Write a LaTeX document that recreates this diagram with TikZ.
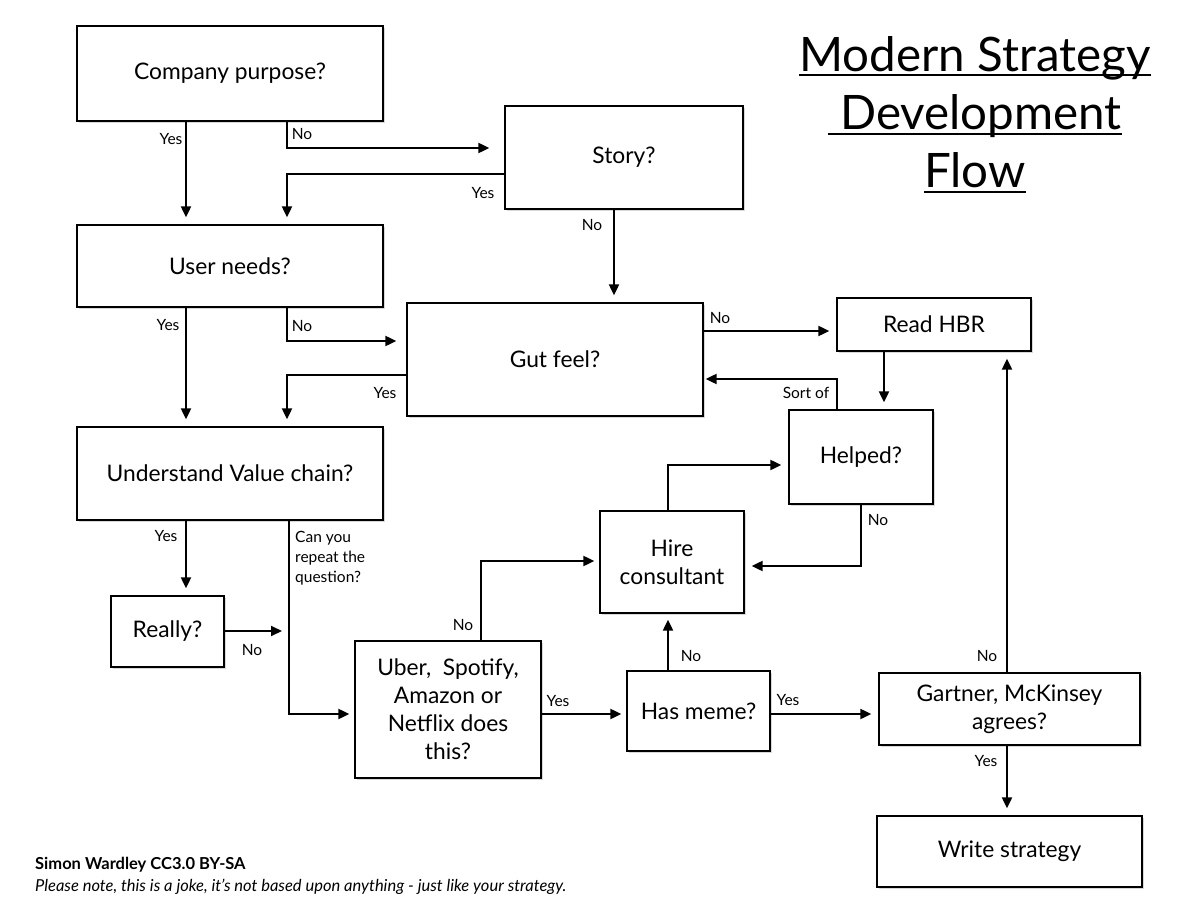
\documentclass[tikz,border=0pt]{standalone}
\usepackage{fontspec}
\setmainfont{Lato}
\usetikzlibrary{arrows.meta,shadows}
\begin{document}
\begin{tikzpicture}[x=1pt,y=-1pt,
  box/.style={draw=black, line width=1.3pt, fill=white, inner sep=2pt, align=center,
    font=\fontsize{22.8}{28}\selectfont,
    drop shadow={opacity=0.3, shadow xshift=2pt, shadow yshift=-2pt}},
  arr/.style={line width=2pt, -{Triangle[length=11pt,width=10pt]}, shorten >=7pt},
  lbl/.style={font=\fontsize{15.5}{18}\selectfont, inner sep=0pt},
  ul/.style={line width=1.6pt}]
\useasboundingbox (0,0) rectangle (1200,909);
\fill[white] (0,0) rectangle (1200,909);

% boxes
\node[box, minimum width=306pt, minimum height=95pt] (cp) at (230,73.5) {Company purpose?};
\node[box, minimum width=238pt, minimum height=103pt] (story) at (624,157.5) {Story?};
\node[box, minimum width=306pt, minimum height=82pt] (un) at (230,266) {User needs?};
\node[box, minimum width=296pt, minimum height=113pt] (gut) at (555,359.5) {Gut feel?};
\node[box, minimum width=194pt, minimum height=53pt] (hbr) at (934,324.5) {Read HBR};
\node[box, minimum width=306pt, minimum height=93pt] (uvc) at (230,473.5) {Understand Value chain?};
\node[box, minimum width=144pt, minimum height=94pt] (helped) at (861,457) {Helped?};
\node[box, minimum width=144pt, minimum height=102pt] (hire) at (672,562) {Hire\\consultant};
\node[box, minimum width=113pt, minimum height=71pt] (really) at (167.5,631.5) {Really?};
\node[box, minimum width=186pt, minimum height=137pt] (uber) at (448,709.5) {Uber,\ \ Spotify,\\Amazon or\\Netflix does\\this?};
\node[box, minimum width=143pt, minimum height=80pt] (meme) at (698.5,711) {Has meme?};
\node[box, minimum width=261pt, minimum height=72pt] (gart) at (1009.5,709) {Gartner, McKinsey\\agrees?};
\node[box, minimum width=265pt, minimum height=71pt] (ws) at (1009.5,851.5) {Write strategy};

% free junction
\coordinate (rj) at (289,631);

% connectors
\draw[arr] (186,0 |- cp.south) -- (186,0 |- un.north);
\draw[arr, shorten >=15pt] (287,0 |- cp.south) |- (story.west |- 0,148);
\draw[arr] (story.west |- 0,174) -| (287,0 |- un.north);
\draw[arr] (614,0 |- story.south) -- (614,0 |- gut.north);
\draw[arr] (186,0 |- un.south) -- (186,0 |- uvc.north);
\draw[arr, shorten >=10pt] (287,0 |- un.south) |- (gut.west |- 0,341);
\draw[arr] (gut.west |- 0,375) -| (287,0 |- uvc.north);
\draw[arr] (gut.east |- 0,331) -- (hbr.west |- 0,331);
\draw[arr] (884,0 |- hbr.south) -- (884,0 |- helped.north);
\draw[arr, shorten >=2pt] (837,0 |- helped.north) |- (gut.east |- 0,379);
\draw[arr] (186,0 |- uvc.south) -- (186,0 |- really.north);
\draw[arr, shorten >=5pt] (289,0 |- uvc.south) |- (uber.west |- 0,714);
\draw[arr] (really.east |- 0,631) -- (rj);
\draw[arr, shorten >=5pt] (481,0 |- uber.north) |- (hire.west |- 0,561);
\draw[arr, shorten >=5pt] (uber.east |- 0,714) -- (meme.west |- 0,714);
\draw[arr, shorten >=6pt] (668,0 |- meme.north) -- (668,0 |- hire.south);
\draw[arr] (668,0 |- hire.north) |- (helped.west |- 0,465);
\draw[arr] (861,0 |- helped.south) |- (hire.east |- 0,566);
\draw[arr] (meme.east |- 0,714) -- (gart.west |- 0,714);
\draw[arr] (1007,0 |- gart.north) -- (1007,0 |- hbr.south);
\draw[arr] (1007,0 |- gart.south) -- (1007,0 |- ws.north);

% labels
\node[lbl] (l1) at (171,139) {Yes};
\node[lbl] (l2) at (302,134) {No};
\node[lbl] (l3) at (483,193) {Yes};
\node[lbl] (l4) at (592,225) {No};
\node[lbl] (l5) at (168,325) {Yes};
\node[lbl] (l6) at (302,326) {No};
\node[lbl] (l7) at (385,393) {Yes};
\node[lbl] (l8) at (720,318) {No};
\node[lbl] (l9) at (806,393) {Sort of};
\node[lbl] (l10) at (166,536) {Yes};
\node[lbl, align=left, anchor=north west, font=\fontsize{15.5}{20}\selectfont] (l11) at (295,531) {Can you\\repeat the\\question?};
\node[lbl] (l12) at (252,650) {No};
\node[lbl] (l13) at (463,625) {No};
\node[lbl] (l14) at (558,701) {Yes};
\node[lbl] (l15) at (691,656) {No};
\node[lbl] (l16) at (878,520) {No};
\node[lbl] (l17) at (788,700) {Yes};
\node[lbl] (l18) at (987,656) {No};
\node[lbl] (l19) at (986,761) {Yes};

% title
\node[inner sep=0pt, anchor=base, font=\fontsize{47.5}{50}\selectfont] (t1) at (975,72) {Modern Strategy};
\node[inner sep=0pt, anchor=base, font=\fontsize{47.5}{50}\selectfont] (t2) at (981,130) {Development};
\node[inner sep=0pt, anchor=base, font=\fontsize{47.5}{50}\selectfont] (t3) at (975,188) {Flow};
\draw[ul] ([yshift=-3pt]t1.base west) -- ([yshift=-3pt]t1.base east);
\draw[ul] ([yshift=-4pt,xshift=-12pt]t2.base west) -- ([yshift=-4pt]t2.base east);
\draw[ul] ([yshift=-4pt]t3.base west) -- ([yshift=-4pt]t3.base east);

% footer
\node[inner sep=0pt, anchor=base west, font=\fontsize{16.5}{19}\selectfont\bfseries] (f1) at (35,869) {Simon Wardley CC3.0 BY-SA};
\node[inner sep=0pt, anchor=base west, font=\fontsize{16.5}{19}\selectfont\itshape] (f2) at (35,891) {Please note, this is a joke, it’s not based upon anything - just like your strategy.};
\end{tikzpicture}
\end{document}
